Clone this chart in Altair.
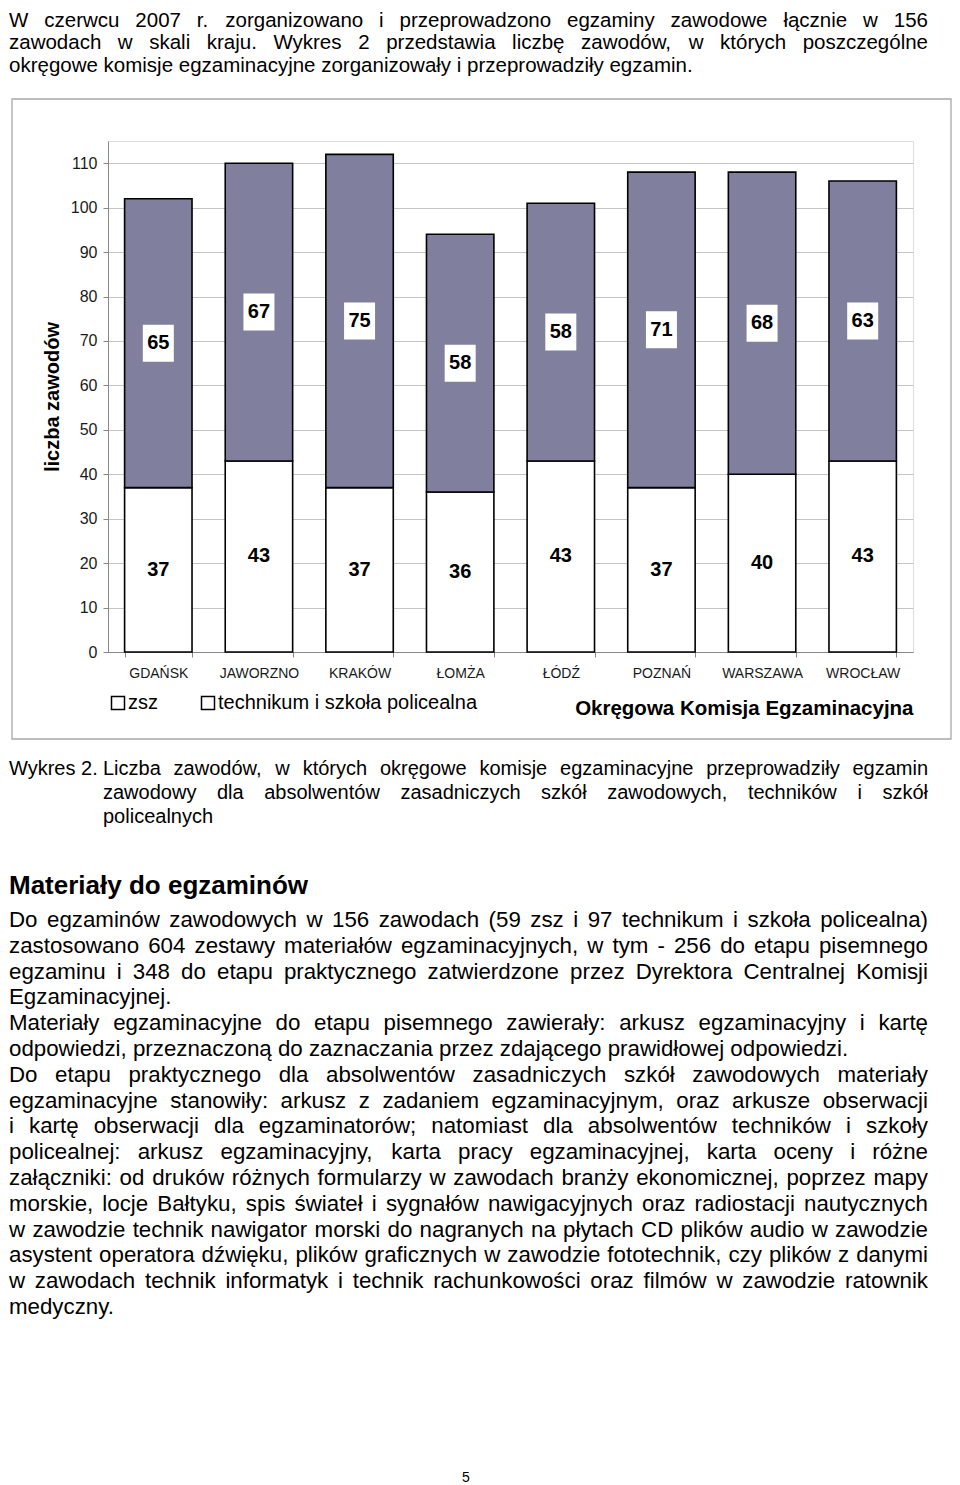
import altair as alt
import pandas as pd

# ---------------- data ----------------
okregi = ["GDAŃSK", "JAWORZNO", "KRAKÓW", "ŁOMŻA", "ŁÓDŹ", "POZNAŃ", "WARSZAWA", "WROCŁAW"]
zsz = [37, 43, 37, 36, 43, 37, 40, 43]
technikum = [65, 67, 75, 58, 58, 71, 68, 63]
segmenty = ["zsz", "technikum i szkoła policealna"]
y_ticks = [0, 10, 20, 30, 40, 50, 60, 70, 80, 90, 100, 110]

top_lines = [
    "W czerwcu 2007 r. zorganizowano i przeprowadzono egzaminy zawodowe łącznie w 156",
    "zawodach w skali kraju. Wykres 2 przedstawia liczbę zawodów, w których poszczególne",
    "okręgowe komisje egzaminacyjne zorganizowały i przeprowadziły egzamin.",
]
caption_label = "Wykres 2."
caption_lines = [
    "Liczba zawodów, w których okręgowe komisje egzaminacyjne przeprowadziły egzamin",
    "zawodowy dla absolwentów zasadniczych szkół zawodowych, techników i szkół",
    "policealnych",
]
heading = "Materiały do egzaminów"
body_lines = [
    "Do egzaminów zawodowych w 156 zawodach (59 zsz i 97 technikum i szkoła policealna)",
    "zastosowano 604 zestawy materiałów egzaminacyjnych, w tym - 256 do etapu pisemnego",
    "egzaminu i 348 do etapu praktycznego zatwierdzone przez Dyrektora Centralnej Komisji",
    "Egzaminacyjnej.",
    "Materiały egzaminacyjne do etapu pisemnego zawierały: arkusz egzaminacyjny i kartę",
    "odpowiedzi, przeznaczoną do zaznaczania przez zdającego prawidłowej odpowiedzi.",
    "Do etapu praktycznego dla absolwentów zasadniczych szkół zawodowych materiały",
    "egzaminacyjne stanowiły: arkusz z zadaniem egzaminacyjnym, oraz arkusze obserwacji",
    "i kartę obserwacji dla egzaminatorów; natomiast dla absolwentów techników i szkoły",
    "policealnej: arkusz egzaminacyjny, karta pracy egzaminacyjnej, karta oceny i różne",
    "załączniki: od druków różnych formularzy w zawodach branży ekonomicznej, poprzez mapy",
    "morskie, locje Bałtyku, spis świateł i sygnałów nawigacyjnych oraz radiostacji nautycznych",
    "w zawodzie technik nawigator morski do nagranych na płytach CD plików audio w zawodzie",
    "asystent operatora dźwięku, plików graficznych w zawodzie fototechnik, czy plików z danymi",
    "w zawodach technik informatyk i technik rachunkowości oraz filmów w zawodzie ratownik",
    "medyczny.",
]
body_last = [3, 5, 15]  # paragraph-ending lines (not justified)
page_number = "5"

# ---------------- layout helpers ----------------
FONT = "Liberation Sans"
OX, OY = 108, 141          # page position of the plot area origin
PLOT_W, PLOT_H = 805, 511
SVG_W, SVG_H = 944, 1477
LEFT = 9                   # left text edge on the page
RIGHT = 928                # right text edge on the page

_w = {" ": 278, "!": 278, "(": 333, ")": 333, ",": 278, "-": 333, ".": 278, ":": 278, ";": 278,
      "/": 278, "?": 556}
for c in "0123456789":
    _w[c] = 556
_w.update(dict(zip("ABCDEFGHIJKLMNOPQRSTUVWXYZ",
                   [667, 667, 722, 722, 667, 611, 778, 722, 278, 500, 667, 556, 833, 722, 778,
                    667, 778, 722, 667, 611, 722, 667, 944, 667, 667, 611])))
_w.update(dict(zip("abcdefghijklmnopqrstuvwxyz",
                   [556, 556, 500, 556, 556, 278, 556, 556, 222, 222, 500, 222, 833, 556, 556,
                    556, 556, 333, 500, 278, 556, 500, 722, 500, 500, 500])))
_w.update({"ą": 556, "ę": 556, "ó": 556, "ł": 222, "ś": 500, "ć": 500, "ż": 500, "ź": 500,
           "ń": 556, "Ł": 556, "Ś": 667, "Ć": 722, "Ż": 611, "Ź": 611, "Ń": 722, "Ó": 778})


def tw(s, size):
    return sum(_w.get(c, 556) for c in s) * size / 1000.0


def place(text, x0, x1, base, size, justify, group, rows):
    words = text.split(" ")
    if justify and len(words) > 1:
        ws = [tw(w, size) for w in words]
        gap = (x1 - x0 - sum(ws)) / (len(words) - 1)
        x = x0
        for w, wd in zip(words, ws):
            rows.append(dict(t=w, px=x - OX, py=base - OY, g=group))
            x += wd + gap
    else:
        rows.append(dict(t=text, px=x0 - OX, py=base - OY, g=group))


rows = []
TOP_SIZE, CAP_SIZE, BODY_SIZE = 20.5, 20, 22.3
top_base = [26.8, 49.3, 71.8]
for i, ln in enumerate(top_lines):
    place(ln, LEFT, RIGHT, top_base[i], TOP_SIZE, i < len(top_lines) - 1, "top", rows)
rows.append(dict(t=caption_label, px=LEFT - OX, py=775 - OY, g="cap"))
for i, ln in enumerate(caption_lines):
    place(ln, 103, RIGHT, 775 + 24 * i, CAP_SIZE, i < len(caption_lines) - 1, "cap", rows)
rows.append(dict(t=heading, px=LEFT - OX, py=894 - OY, g="head"))
for i, ln in enumerate(body_lines):
    place(ln, LEFT, RIGHT, 927 + 25.8 * i, BODY_SIZE, i not in body_last, "body", rows)
rows.append(dict(t=page_number, px=462 - OX, py=1482 - OY, g="page"))
text_df = pd.DataFrame(rows)

# ---------------- chart data ----------------
bars = []
for c, a, b in zip(okregi, zsz, technikum):
    bars.append(dict(cat=c, seg=segmenty[0], lo=0, hi=a, mid=a / 2, val=a))
    bars.append(dict(cat=c, seg=segmenty[1], lo=a, hi=a + b, mid=a + b / 2, val=b))
bar_df = pd.DataFrame(bars)

xenc = alt.X(
    "cat:N", sort=okregi,
    scale=alt.Scale(paddingInner=0.33, paddingOuter=0.165),
    axis=alt.Axis(labelAngle=0, tickBand="extent", tickSize=5, labelPadding=9,
                  labelFontSize=14, labelColor="#1a1a1a", grid=False,
                  titleAnchor="end", titleFontSize=20.5, titleFontWeight="bold",
                  titlePadding=18, titleColor="#000"),
    title="Okręgowa Komisja Egzaminacyjna",
)


def yenc(field):
    return alt.Y(
        field, scale=alt.Scale(domain=[0, 115], nice=False),
        axis=alt.Axis(values=y_ticks, tickSize=5, labelPadding=6, labelFontSize=16,
                      labelColor="#1a1a1a", gridColor="#c4c4c4", titleFontSize=20,
                      titleFontWeight="bold", titlePadding=8, titleColor="#000"),
        title="liczba zawodów",
    )


base = alt.Chart(bar_df)

frame = alt.Chart(pd.DataFrame({"k": [0]})).mark_rect(
    filled=False, stroke="#a8a8a8", strokeWidth=1.3
).encode(x=alt.value(12 - OX), x2=alt.value(951 - OX), y=alt.value(99 - OY), y2=alt.value(739 - OY))

bars_zsz = base.transform_filter(alt.datum.seg == segmenty[0]).mark_bar(
    stroke="black", strokeWidth=1.6, fill="#ffffff"
).encode(x=xenc, y=yenc("lo:Q"), y2="hi:Q")

bars_tech = base.transform_filter(alt.datum.seg == segmenty[1]).mark_bar(
    stroke="black", strokeWidth=1.6, fill="#807f9d"
).encode(x=xenc, y=yenc("lo:Q"), y2="hi:Q")

box_layer = base.transform_filter(alt.datum.seg == segmenty[1]).mark_tick(
    size=31, thickness=37, color="white", opacity=1
).encode(x=xenc, y=yenc("mid:Q"))

label_layer = base.mark_text(
    font=FONT, fontSize=20, fontWeight="bold", color="black", baseline="middle"
).encode(x=xenc, y=yenc("mid:Q"), text="val:Q")

# off-canvas points that only carry the legend
legend_layer = base.mark_point(filled=False, color="black", strokeWidth=1.5,
                               size=169, shape="square", opacity=1).encode(
    x=alt.value(-2000), y=alt.value(-2000),
    shape=alt.Shape(
        "seg:N", scale=alt.Scale(domain=segmenty, range=["square", "square"]),
        legend=alt.Legend(
            title=None, orient="none", legendX=0, legendY=552, direction="horizontal",
            labelFontSize=20, labelFont=FONT, labelColor="#000", labelLimit=600,
            symbolType="square", symbolSize=169, symbolStrokeWidth=1.5,
            symbolStrokeColor="black", symbolOpacity=1, columnPadding=40, labelOffset=0,
        ),
    ),
)

txt_x = alt.X("px:Q", scale=None, axis=None)
txt_y = alt.Y("py:Q", scale=None, axis=None)


def text_layer(group, size, weight="normal"):
    return alt.Chart(text_df).transform_filter(alt.datum.g == group).mark_text(
        font=FONT, fontSize=size, fontWeight=weight, align="left", baseline="alphabetic",
        color="#000"
    ).encode(x=txt_x, y=txt_y, text="t:N")


chart = alt.layer(
    frame, bars_zsz, bars_tech, box_layer, label_layer, legend_layer,
    text_layer("top", TOP_SIZE), text_layer("cap", CAP_SIZE),
    text_layer("head", 26, "bold"), text_layer("body", BODY_SIZE), text_layer("page", 14),
).properties(
    width=PLOT_W, height=PLOT_H,
    autosize=alt.AutoSizeParams(type="none"),
    padding={"left": OX - 8, "top": OY - 8, "right": SVG_W - (OX - 8) - PLOT_W,
             "bottom": SVG_H - (OY - 8) - PLOT_H},
).configure_view(
    stroke="#9c9c9c", strokeWidth=1.2
).configure_axis(
    labelFont=FONT, titleFont=FONT, domainColor="#8c8c8c", tickColor="#8c8c8c",
    domainWidth=1.2,
).configure(background="white")

chart.save("out.html", embed_options={"renderer": "svg", "actions": False})
